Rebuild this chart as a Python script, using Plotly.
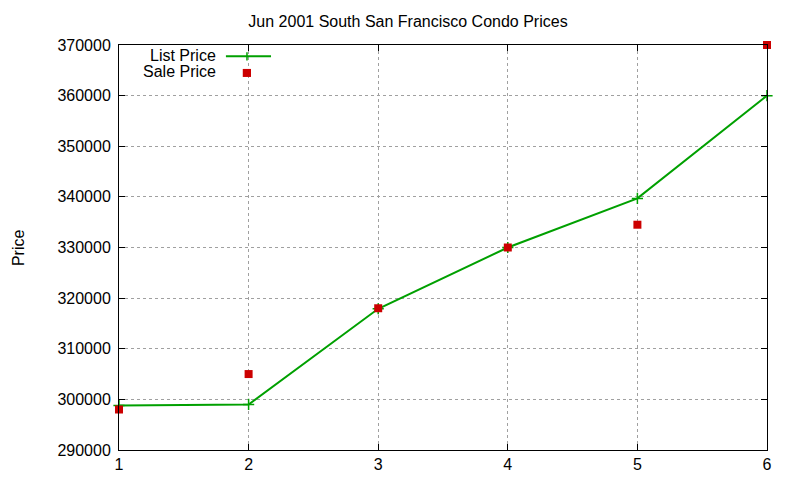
import plotly.graph_objects as go

months = [1, 2, 3, 4, 5, 6]
list_price = [298800, 299000, 317900, 330000, 339700, 360000]
sale_price = [298000, 305000, 318000, 330000, 334500, 370000]

GREEN = "#00a000"
RED = "#cc0000"
FONT = "Liberation Sans, Arial, sans-serif"

fig = go.Figure()

fig.add_trace(go.Scatter(
    x=months, y=list_price, mode="lines+markers", name="List Price",
    line=dict(color=GREEN, width=2),
    marker=dict(symbol="cross-thin", size=8, line=dict(color=GREEN, width=1.5)),
    cliponaxis=False, showlegend=False
))
fig.add_trace(go.Scatter(
    x=months, y=sale_price, mode="markers", name="Sale Price",
    marker=dict(symbol="square", size=8, color=RED),
    cliponaxis=False, showlegend=False
))

# gnuplot-style key: text on the left, sample on the right
fig.add_annotation(x=0.151, y=0.974, xref="paper", yref="paper", text="List Price",
                   showarrow=False, xanchor="right", yanchor="middle", borderpad=0,
                   font=dict(family=FONT, size=16, color="#000"))
fig.add_annotation(x=0.151, y=0.935, xref="paper", yref="paper", text="Sale Price",
                   showarrow=False, xanchor="right", yanchor="middle", borderpad=0,
                   font=dict(family=FONT, size=16, color="#000"))
fig.add_shape(type="line", xref="paper", yref="paper", x0=0.165, x1=0.2346, y0=0.972, y1=0.972,
              line=dict(color=GREEN, width=2))
fig.add_shape(type="line", xref="paper", yref="paper", x0=0.1975, x1=0.1975, y0=0.962, y1=0.982,
              line=dict(color=GREEN, width=1.5))
fig.add_shape(type="rect", xref="paper", yref="paper", x0=0.191, x1=0.2037,
              y0=0.931 - 0.0099, y1=0.931 + 0.0099, line=dict(width=0), fillcolor=RED)

# y-axis label, placed like gnuplot's
fig.add_annotation(x=-0.155, y=0.5, xref="paper", yref="paper", text="Price",
                   textangle=-90, showarrow=False, xanchor="center", yanchor="middle",
                   font=dict(family=FONT, size=16, color="#000"))

axis_common = dict(
    showline=True, linecolor="black", linewidth=1, mirror="ticks",
    ticks="inside", ticklen=6, tickcolor="black",
    showgrid=True, gridcolor="#a0a0a0", griddash="3px,3px", gridwidth=1,
    zeroline=False, automargin=False,
    tickfont=dict(family=FONT, size=16, color="#000"),
)

fig.update_xaxes(range=[1, 6], dtick=1, **axis_common)
fig.update_yaxes(range=[290000, 370000], dtick=10000, tickformat="d", ticklabelstandoff=4,
                 **axis_common)

fig.update_layout(
    width=800, height=480,
    margin=dict(l=111, r=41, t=37, b=38),
    paper_bgcolor="white", plot_bgcolor="white",
    title=dict(text="Jun 2001 South San Francisco Condo Prices", x=0.5, xanchor="center",
               y=0.973, yanchor="middle", font=dict(family=FONT, size=16, color="#000")),
)

fig.write_html("out.html")
